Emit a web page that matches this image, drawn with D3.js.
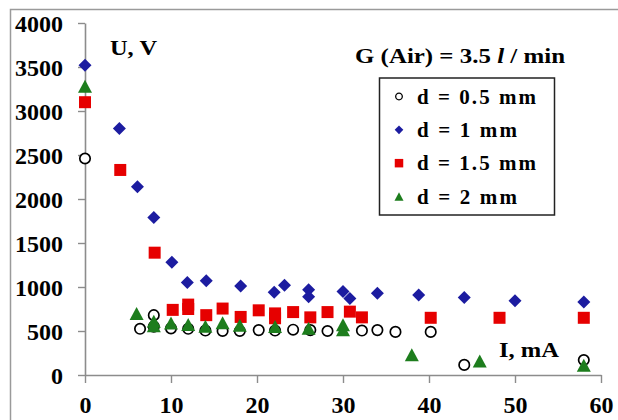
<!DOCTYPE html>
<html>
<head>
<meta charset="utf-8">
<script src="https://cdn.jsdelivr.net/npm/d3@7"></script>
<style>
  html, body { margin: 0; padding: 0; background: #fff; }
  svg { display: block; }
  text { font-family: "Liberation Serif", "Times New Roman", serif; font-weight: bold; fill: #000; }
</style>
</head>
<body>
<svg id="chart" width="618" height="420"></svg>
<script>
// ---- Data (I in mA, U in V) ----
const xTicks = [0, 10, 20, 30, 40, 50, 60];
const yTicks = [0, 500, 1000, 1500, 2000, 2500, 3000, 3500, 4000];

const seriesNames = ["d = 0.5 mm", "d = 1 mm", "d = 1.5 mm", "d = 2 mm"];

const d05_I = [0, 6.4, 8, 8, 10, 12, 14, 16, 18, 20.2, 22.1, 24.2, 26.2, 28.2, 32.2, 34, 36.1, 40.2, 44.1, 58];
const d05_U = [2460, 525, 680, 550, 530, 525, 505, 500, 500, 510, 505, 515, 510, 500, 505, 510, 490, 490, 115, 170];

const d1_I = [0, 4, 6.1, 8, 10.1, 11.9, 14.1, 18.1, 22, 23.2, 26, 26, 30, 30.8, 34, 38.8, 44.1, 50, 58];
const d1_U = [3520, 2800, 2140, 1790, 1280, 1050, 1070, 1010, 940, 1020, 970, 890, 950, 870, 930, 910, 880, 845, 830];

const d15_I = [0, 4.1, 8.1, 10.2, 12, 12, 14.1, 16, 18.1, 20.2, 22.1, 22.1, 24.2, 26.2, 28.2, 30.8, 32.2, 40.2, 48.2, 58];
const d15_U = [3100, 2330, 1390, 740, 800, 750, 680, 755, 660, 735, 700, 645, 715, 655, 715, 720, 655, 650, 650, 650];

const d2_I = [0, 6, 8, 8, 10, 12, 14, 16, 18, 22.1, 26, 30, 30, 38, 45.9, 58];
const d2_U = [3280, 700, 610, 560, 590, 575, 555, 595, 565, 550, 530, 570, 515, 230, 160, 110];

// ---- Layout ----
const svg = d3.select("#chart");
const x = d3.scaleLinear().domain([0, 60]).range([85, 601]);
const y = d3.scaleLinear().domain([0, 4000]).range([375, 23]);

// outer frame (top & left edges visible)
svg.append("path")
  .attr("d", "M10.5,420 L10.5,9.5 L620,9.5")
  .attr("fill", "none").attr("stroke", "#9a9a9a").attr("stroke-width", 1.5);

// axes
const axisColor = "#8c8c8c";
const gx = svg.append("g").attr("transform", `translate(0,${y(0)})`)
  .call(d3.axisBottom(x).tickValues(xTicks).tickFormat(d3.format("d")).tickSize(8).tickPadding(13).tickSizeOuter(0));
const gy = svg.append("g").attr("transform", `translate(${x(0)},0)`)
  .call(d3.axisLeft(y).tickValues(yTicks).tickFormat(d3.format("d")).tickSize(7).tickPadding(15).tickSizeOuter(0));
[gx, gy].forEach(g => {
  g.select(".domain").attr("stroke", axisColor).attr("stroke-width", 1.6);
  g.selectAll(".tick line").attr("stroke", axisColor).attr("stroke-width", 1.4);
  g.selectAll(".tick text")
    .attr("font-family", "'Liberation Serif', 'Times New Roman', serif")
    .attr("font-weight", "bold").attr("font-size", 24).attr("fill", "#000");
});
gy.selectAll(".tick text").attr("dy", "0.34em");

// symbol types
const diamondType = {
  draw(ctx, size) { const r = Math.sqrt(size / 2); ctx.moveTo(0, -r); ctx.lineTo(r, 0); ctx.lineTo(0, r); ctx.lineTo(-r, 0); ctx.closePath(); }
};
const squareType = {
  draw(ctx, size) { const h = Math.sqrt(size) / 2; ctx.rect(-h, -h, 2 * h, 2 * h); }
};
const triType = {
  draw(ctx, size) { const w = Math.sqrt(size); const h = w * 0.93; ctx.moveTo(0, -h / 2); ctx.lineTo(w / 2, h / 2); ctx.lineTo(-w / 2, h / 2); ctx.closePath(); }
};

const styles = [
  { type: d3.symbolCircle, fill: "#fff", stroke: "#000", sw: 1.7, size: Math.PI * 5.2 * 5.2, lsize: Math.PI * 3.3 * 3.3 },
  { type: diamondType, fill: "#1c1ca0", stroke: "none", sw: 0, size: 2 * 6.5 * 6.5, lsize: 2 * 4.3 * 4.3 },
  { type: squareType, fill: "#e60000", stroke: "none", sw: 0, size: 12 * 12, lsize: 8.5 * 8.5 },
  { type: triType, fill: "#1d7d1d", stroke: "none", sw: 0, size: 14 * 14, lsize: 9 * 9 }
];

const allSeries = [
  d05_I.map((v, i) => [v, d05_U[i]]),
  d1_I.map((v, i) => [v, d1_U[i]]),
  d15_I.map((v, i) => [v, d15_U[i]]),
  d2_I.map((v, i) => [v, d2_U[i]])
];

const drawOrder = [2, 1, 0, 3];
drawOrder.forEach(si => {
  const st = styles[si];
  svg.append("g").selectAll("path").data(allSeries[si]).join("path")
    .attr("transform", d => `translate(${x(d[0])},${y(d[1])})`)
    .attr("d", d3.symbol().type(st.type).size(st.size))
    .attr("fill", st.fill).attr("stroke", st.stroke).attr("stroke-width", st.sw);
});

// axis titles
svg.append("text").attr("x", 110).attr("y", 55).attr("font-size", 21)
  .attr("textLength", 47).attr("lengthAdjust", "spacingAndGlyphs").text("U, V");
svg.append("text").attr("x", 499).attr("y", 357).attr("font-size", 20)
  .attr("textLength", 60).attr("lengthAdjust", "spacingAndGlyphs").text("I, mA");

// legend title
const lt = svg.append("text").attr("x", 355).attr("y", 63).attr("font-size", 22)
  .attr("textLength", 210).attr("lengthAdjust", "spacingAndGlyphs");
lt.append("tspan").text("G (Air) = 3.5 ");
lt.append("tspan").attr("font-style", "italic").text("l");
lt.append("tspan").text(" / min");

// legend box
svg.append("rect").attr("x", 379.5).attr("y", 78).attr("width", 175).attr("height", 137)
  .attr("fill", "#fff").attr("stroke", "#222").attr("stroke-width", 1.5);
const legY = d3.scalePoint().domain(seriesNames).range([96.5, 196.5]);
const legW = [119, 100, 119, 100];
seriesNames.forEach((name, i) => {
  const st = styles[i];
  svg.append("path")
    .attr("transform", `translate(399,${legY(name)})`)
    .attr("d", d3.symbol().type(st.type).size(st.lsize))
    .attr("fill", st.fill).attr("stroke", st.stroke).attr("stroke-width", i === 0 ? 1.3 : 0);
  svg.append("text").attr("x", 417).attr("y", legY(name) + 7).attr("font-size", 21)
    .attr("textLength", legW[i]).attr("lengthAdjust", "spacing").text(name);
});
</script>
</body>
</html>
